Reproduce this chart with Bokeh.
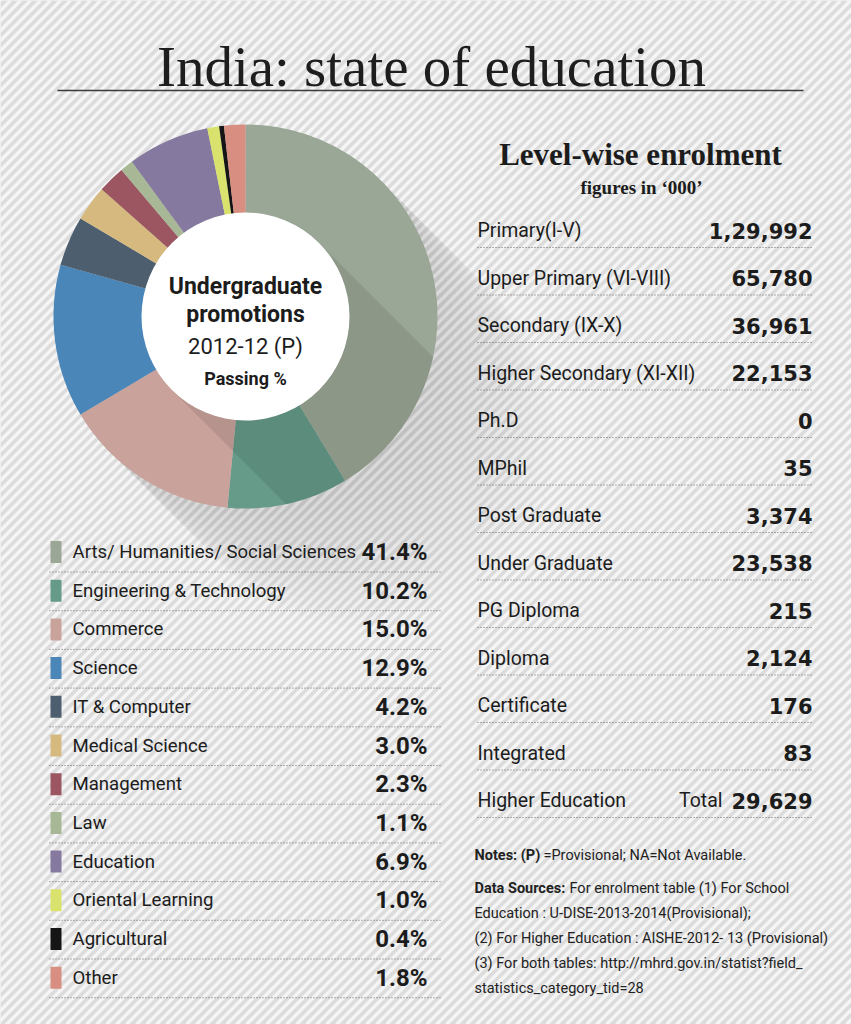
import numpy as np
from bokeh.plotting import figure
from bokeh.models import Range1d
from bokeh.core.properties import value
from bokeh.embed import file_html
from bokeh.resources import INLINE

# ---------------- data ----------------
title = "India: state of education"
categories = ["Arts/ Humanities/ Social Sciences", "Engineering & Technology", "Commerce",
              "Science", "IT & Computer", "Medical Science", "Management", "Law",
              "Education", "Oriental Learning", "Agricultural", "Other"]
passing_pct = [41.4, 10.2, 15.0, 12.9, 4.2, 3.0, 2.3, 1.1, 6.9, 1.0, 0.4, 1.8]
cat_colors = ["#9aa696", "#669a89", "#c9a29b", "#4b86b9", "#4d5f6f", "#d6b97f",
              "#9b5662", "#a8b896", "#85799f", "#d8e26c", "#151515", "#d88e80"]

levels = ["Primary(I-V)", "Upper Primary (VI-VIII)", "Secondary (IX-X)",
          "Higher Secondary (XI-XII)", "Ph.D", "MPhil", "Post Graduate", "Under Graduate",
          "PG Diploma", "Diploma", "Certificate", "Integrated", "Higher Education"]
enrolment = [129992, 65780, 36961, 22153, 0, 35, 3374, 23538, 215, 2124, 176, 83, 29629]

center_lines = ["Undergraduate", "promotions", "2012-12 (P)", "Passing %"]
notes_bold = ["Notes: (P)", "Data Sources:"]
notes_regular = ["=Provisional; NA=Not Available.", "For enrolment table (1) For School"]
source_lines = ["Education : U-DISE-2013-2014(Provisional);",
                "(2) For Higher Education : AISHE-2012- 13 (Provisional)",
                "(3) For both tables: http://mhrd.gov.in/statist?field_",
                "statistics_category_tid=28"]


def inr(n):
    s = str(n)
    if len(s) <= 3:
        return s
    last3, rest = s[-3:], s[:-3]
    groups = []
    while len(rest) > 2:
        groups.insert(0, rest[-2:])
        rest = rest[:-2]
    if rest:
        groups.insert(0, rest)
    return ",".join(groups + [last3])


SANS = value("Roboto")
SERIF = value("Liberation Serif")
WIDE = value("DejaVu Sans")
INK = "#1c1c1c"
W, H = 851, 1024

# ---------------- figure ----------------
p = figure(width=W, height=H, x_range=Range1d(0, W), y_range=Range1d(H, 0),
           output_backend="svg", toolbar_location=None, min_border=0,
           x_axis_type=None, y_axis_type=None)
p.grid.visible = False
p.outline_line_color = None
p.background_fill_color = "#dcdcdc"
p.border_fill_color = "#dcdcdc"

# striped background ("/" stripes)
c = np.arange(-20, W + H + 20, 10.0)
p.segment(x0=c, y0=np.zeros_like(c), x1=c - H, y1=np.full_like(c, H),
          line_color="#f5f5f5", line_width=3.4)

# ---------------- donut ----------------
CX, CY, R_OUT, R_IN = 245, 316, 192, 104
u = np.array([1.0, 1.0]) / np.sqrt(2)
v = np.array([1.0, -1.0]) / np.sqrt(2)
C = np.array([CX, CY], dtype=float)

# long shadow (fading layers)
sx, sy = [], []
for d in np.arange(12, 170, 12):
    th_b = np.linspace(np.pi / 2, 3 * np.pi / 2, 40)
    th_f = np.linspace(3 * np.pi / 2, 5 * np.pi / 2, 40)
    back = C + R_OUT * (np.cos(th_b)[:, None] * u + np.sin(th_b)[:, None] * v)
    front = C + d * u + R_OUT * (np.cos(th_f)[:, None] * u + np.sin(th_f)[:, None] * v)
    pts = np.vstack([back, front])
    sx.append(pts[:, 0].tolist())
    sy.append(pts[:, 1].tolist())
p.patches(sx, sy, fill_color="black", fill_alpha=0.009, line_color=None)

shares = np.array(passing_pct) / np.sum(passing_pct)
cum = np.concatenate([[0.0], np.cumsum(shares)])
start = np.pi / 2 - 2 * np.pi * cum[:-1]
end = np.pi / 2 - 2 * np.pi * cum[1:]
p.annular_wedge(x=CX, y=CY, inner_radius=R_IN - 2, outer_radius=R_OUT,
                start_angle=start, end_angle=end, direction="clock",
                fill_color=cat_colors, line_color=None)

# inner circle shadow on the ring
a = np.arcsin(R_IN / R_OUT)
th = np.linspace(a, -a, 40)
arc = C + R_OUT * (np.cos(th)[:, None] * u + np.sin(th)[:, None] * v)
band = np.vstack([C + R_IN * v, arc, C - R_IN * v])
p.patch(band[:, 0], band[:, 1], fill_color="black", fill_alpha=0.09, line_color=None)

p.circle(x=[CX], y=[CY], radius=R_IN, fill_color="white", line_color=None)

p.text(x=[CX] * 2, y=[286, 314], text=center_lines[:2], text_font=SANS,
       text_font_style="bold", text_font_size="23px", text_align="center",
       text_baseline="middle", text_color=INK)
p.text(x=[CX], y=[346], text=center_lines[2:3], text_font=SANS,
       text_font_size="22px", text_align="center", text_baseline="middle",
       text_color=INK)
p.text(x=[CX], y=[378], text=center_lines[3:], text_font=SANS,
       text_font_style="bold", text_font_size="18px", text_align="center",
       text_baseline="middle", text_color=INK)

# ---------------- title ----------------
p.text(x=[431], y=[66], text=[title], text_font=SERIF, text_font_size="57px",
       text_align="center", text_baseline="middle", text_color="#1e1e1e")
p.segment(x0=[57], y0=[90], x1=[803], y1=[90], line_color="#3a3a3a", line_width=1.5)

# ---------------- legend ----------------
DOT = "#4a4a4a"
idx = np.arange(len(categories))
leg_mid = 551.5 + 38.7 * idx
p.rect(x=55.5, y=leg_mid, width=11, height=22, fill_color=cat_colors, line_color=None)
p.text(x=72, y=leg_mid, text=categories, text_font=SANS, text_font_size="18.6px",
       text_align="left", text_baseline="middle", text_color=INK)
p.text(x=427, y=leg_mid, text=[f"{v_:.1f}%" for v_ in passing_pct], text_font=SANS,
       text_font_style="bold", text_font_size="24px", text_align="right",
       text_baseline="middle", text_color=INK)
p.segment(x0=49, y0=leg_mid + 20, x1=442, y1=leg_mid + 20, line_color=DOT,
          line_alpha=0.8, line_width=1, line_dash="1 2")

# ---------------- table ----------------
p.text(x=[640], y=[154], text=["Level-wise enrolment"], text_font=SERIF,
       text_font_style="bold", text_font_size="31px", text_align="center",
       text_baseline="middle", text_color=INK)
p.text(x=[641], y=[187], text=["figures in \u2018000\u2019"], text_font=SERIF,
       text_font_style="bold", text_font_size="19px", text_align="center",
       text_baseline="middle", text_color=INK)

ridx = np.arange(len(levels))
tab_mid = 230 + 47.5 * ridx
p.text(x=477, y=tab_mid, text=levels, text_font=SANS, text_font_size="19.5px",
       text_align="left", text_baseline="middle", text_color=INK)
p.text(x=812, y=tab_mid, text=[inr(e) for e in enrolment], text_font=WIDE,
       text_font_style="bold", text_font_size="21px", text_align="right",
       text_baseline="middle", text_color=INK)
p.text(x=[722], y=[tab_mid[-1]], text=["Total"], text_font=SANS,
       text_font_size="19.5px", text_align="right", text_baseline="middle",
       text_color=INK)
p.segment(x0=477, y0=tab_mid + 17, x1=813, y1=tab_mid + 17, line_color=DOT,
          line_alpha=0.8, line_width=1, line_dash="1 2")

# ---------------- notes ----------------
p.text(x=[474, 474], y=[855, 888], text=notes_bold, text_font=SANS,
       text_font_style="bold", text_font_size="14.5px", text_align="left",
       text_baseline="middle", text_color="#222222")
p.text(x=[543, 569], y=[855, 888], text=notes_regular, text_font=SANS,
       text_font_size="14.5px", text_align="left", text_baseline="middle",
       text_color="#222222")
p.text(x=474, y=913 + 25 * np.arange(len(source_lines)), text=source_lines,
       text_font=SANS, text_font_size="14.5px", text_align="left",
       text_baseline="middle", text_color="#222222")

open("out.html", "w").write(file_html(p, INLINE))
